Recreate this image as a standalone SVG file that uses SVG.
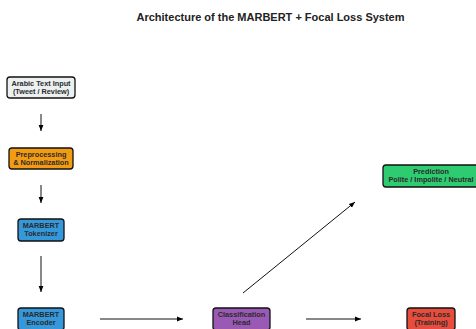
<svg xmlns="http://www.w3.org/2000/svg" width="476" height="329" viewBox="0 0 476 329">
<defs>
<marker id="ah" viewBox="0 0 10 10" refX="10" refY="5" markerWidth="6" markerHeight="6" markerUnits="userSpaceOnUse" orient="auto">
<path d="M0,1 L10,5 L0,9 Z" fill="#000"/>
</marker>
<style>
.box{stroke:#111;stroke-width:1.3}
.lbl{font-family:"Liberation Sans",Arial,sans-serif;font-weight:bold;font-size:7.3px;fill:#2b2b2b;text-anchor:middle}
.title{font-family:"Liberation Sans",Arial,sans-serif;font-weight:bold;font-size:11px;fill:#222;text-anchor:middle}
.edge{stroke:#111;stroke-width:1;fill:none;marker-end:url(#ah)}
</style>
</defs>
<rect width="476" height="329" fill="#fff"/>
<text class="title" x="270.5" y="21">Architecture of the MARBERT + Focal Loss System</text>
<g id="connectors">
<line class="edge" x1="41" y1="114" x2="41" y2="131"/>
<line class="edge" x1="41" y1="185" x2="41" y2="203"/>
<line class="edge" x1="41" y1="256" x2="41" y2="292"/>
<line class="edge" x1="100" y1="319" x2="183" y2="319"/>
<line class="edge" x1="306" y1="319" x2="361" y2="319"/>
<line class="edge" x1="243" y1="293" x2="355" y2="202"/>
</g>
<g id="input">
<rect class="box" x="7" y="77" width="68" height="21" rx="3" fill="#ecf0f1"/>
<text class="lbl" x="41" y="86">Arabic Text Input</text>
<text class="lbl" x="41" y="94">(Tweet / Review)</text>
</g>
<g id="preprocessing">
<rect class="box" x="9" y="148" width="64" height="21" rx="3" fill="#f39c12"/>
<text class="lbl" x="41" y="157">Preprocessing</text>
<text class="lbl" x="41" y="165">&amp; Normalization</text>
</g>
<g id="tokenizer">
<rect class="box" x="18" y="219" width="46" height="22" rx="3" fill="#3498db"/>
<text class="lbl" x="41" y="228">MARBERT</text>
<text class="lbl" x="41" y="236">Tokenizer</text>
</g>
<g id="encoder">
<rect class="box" x="18" y="308" width="46" height="22" rx="3" fill="#3498db"/>
<text class="lbl" x="41" y="317">MARBERT</text>
<text class="lbl" x="41" y="325">Encoder</text>
</g>
<g id="classification">
<rect class="box" x="213" y="308" width="57" height="22" rx="3" fill="#9b59b6"/>
<text class="lbl" x="241.5" y="317">Classification</text>
<text class="lbl" x="241.5" y="325">Head</text>
</g>
<g id="focal">
<rect class="box" x="407" y="308" width="48" height="22" rx="3" fill="#e74c3c"/>
<text class="lbl" x="431" y="317">Focal Loss</text>
<text class="lbl" x="431" y="325">(Training)</text>
</g>
<g id="prediction">
<rect class="box" x="383" y="165" width="98" height="22" rx="3" fill="#2ecc71"/>
<text class="lbl" x="431" y="174">Prediction</text>
<text class="lbl" x="431" y="182">Polite / Impolite / Neutral</text>
</g>
</svg>
